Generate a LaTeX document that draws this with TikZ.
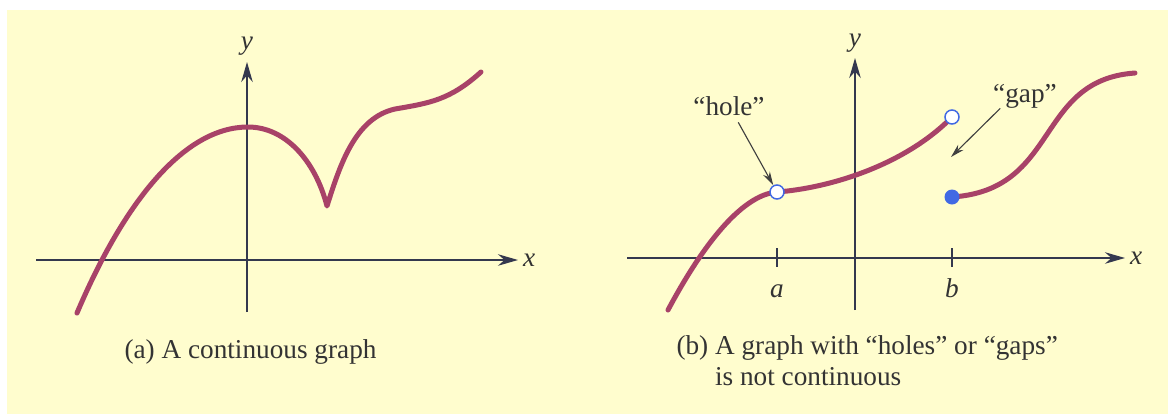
\documentclass[tikz,border=0pt]{standalone}
\usepackage{fontspec}
\setmainfont{Liberation Serif}
\usepackage{tikz}
\usetikzlibrary{positioning, arrows.meta, calc}

\definecolor{paper}{RGB}{255,253,206}
\definecolor{curvecol}{RGB}{168,66,104}
\definecolor{axiscol}{RGB}{52,56,78}
\definecolor{holeblue}{RGB}{65,105,228}

\begin{document}
\begin{tikzpicture}[
      x=0.4pt, y=-0.4pt,
      font=\fontsize{10.9}{12.4}\selectfont,
      axisline/.style={
        draw=axiscol,
        line width=0.55pt,
        -{Stealth[length=8pt,width=4.6pt]}
      },
      fcurve/.style={
        draw=curvecol,
        line width=2pt,
        line cap=round,
        line join=round
      },
      tickmark/.style={draw=axiscol, line width=0.55pt},
      lbl/.style={inner sep=0pt, text=black!80, font=\fontsize{10.9}{12.4}\selectfont\itshape},
      captext/.style={inner sep=0pt, text=black!80, align=left},
      pointer/.style={
        draw=black!75,
        line width=0.45pt,
        -{Stealth[length=5.5pt,width=3pt]}
      },
      openpt/.style={circle, draw=holeblue, fill=white, line width=0.6pt, minimum size=5.6pt, inner sep=0pt},
      fullpt/.style={circle, fill=holeblue, minimum size=6pt, inner sep=0pt}
    ]

    % background
    \fill[white] (0,0) rectangle (1168,414);
    \fill[paper] (7,10) rectangle (1168,414);
    \useasboundingbox (0,0) rectangle (1168,414);

    % (a) continuous graph
    \coordinate (xendA) at (518,260);
    \coordinate (yendA) at (247,62);
    \draw[axisline] (36,260) -- (xendA);
    \draw[axisline] (247,312) -- (yendA);
    \node[lbl, right=1.8pt of xendA] (xlabA) {x};
    \node[lbl, above=2.4pt of yendA] (ylabA) {y};

    \draw[fcurve] (77,313) .. controls (125,200) and (185,127) .. (248,127)
      .. controls (285,127) and (315,160) .. (327,206)
      .. controls (340,165) and (355,118) .. (395,109)
      .. controls (430,103) and (450,100) .. (481,72);

    \node[captext, anchor=base west] (capA) at (124,358) {(a) A continuous graph};

    % (b) holes and gaps
    \coordinate (xendB) at (1125,258);
    \coordinate (yendB) at (855,58);
    \draw[axisline] (627,258) -- (xendB);
    \draw[axisline] (855,310) -- (yendB);
    \node[lbl, right=1.8pt of xendB] (xlabB) {x};
    \node[lbl, above=2.2pt of yendB] (ylabB) {y};

    \foreach \t/\n in {777/a, 952/b} {
      \draw[tickmark] (\t,248) -- (\t,267);
      \node[lbl, anchor=base] (lab\n) at (\t,297) {\n};
    }

    \coordinate (pa) at (777,192);
    \coordinate (pb) at (952,117);
    \coordinate (qb) at (952,197);
    \draw[fcurve] (668,310) .. controls (700,250) and (740,195) .. (pa);
    \draw[fcurve] (pa) .. controls (830,188) and (905,165) .. (pb);
    \draw[fcurve] (qb) .. controls (1060,190) and (1035,80) .. (1135,73);

    \node[openpt] (holeA) at (pa) {};
    \node[openpt] (holeB) at (pb) {};
    \node[fullpt] (dotB) at (qb) {};

    \node[captext, anchor=base] (holelab) at (729,115) {“hole”};
    \draw[pointer, shorten <=3pt] (holelab) -- (holeA);

    \node[captext, anchor=base] (gaplab) at (1025,102) {“gap”};
    \coordinate (gapend) at (951,157);
    \draw[pointer] ([xshift=3pt]gaplab.south west) -- (gapend);

    \node[captext, anchor=base west] (capB) at (676,354) {%
      \begin{tabular}[t]{@{}l@{ }l@{}}
        (b) & A graph with “holes” or “gaps”\\
            & is not continuous
      \end{tabular}};

    \end{tikzpicture}
\end{document}
